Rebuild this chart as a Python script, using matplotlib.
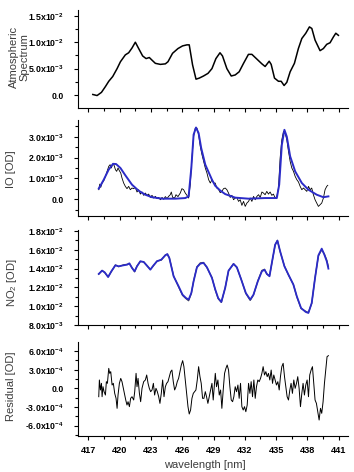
import numpy as np
import matplotlib
matplotlib.use("Agg")
import matplotlib.pyplot as plt
from matplotlib.ticker import MultipleLocator, FuncFormatter

plt.rcParams['font.family'] = ['Liberation Sans', 'DejaVu Sans']
plt.rcParams['mathtext.fontset'] = 'custom'
plt.rcParams['mathtext.rm'] = 'Liberation Sans'
plt.rcParams['mathtext.it'] = 'Liberation Sans:italic'
plt.rcParams['mathtext.bf'] = 'Liberation Sans:bold'

# ---------------- data ----------------
atm_wl = [417.42, 417.83, 418.25, 418.63, 418.95, 419.33, 419.75, 420.07, 420.54, 420.86,
          421.18, 421.50, 421.82, 422.20, 422.53, 422.84, 423.10, 423.42, 423.90, 424.38,
          424.63, 425.07, 425.59, 426.03, 426.45, 426.67, 426.99, 427.32, 427.63, 428.04,
          428.47, 428.85, 429.23, 429.62, 429.86, 430.28, 430.70, 431.08, 431.46, 431.88,
          432.35, 432.68, 433.16, 433.64, 433.95, 434.34, 434.53, 434.85, 435.23, 435.49,
          435.77, 436.03, 436.35, 436.76, 437.14, 437.47, 437.85, 438.20, 438.43, 438.74,
          439.22, 439.54, 439.86, 440.18, 440.50, 440.73, 440.98]
atm_spec = [0.0001, -0.0001, 0.0005, 0.0016, 0.0026, 0.0035, 0.0050, 0.0063, 0.0076, 0.0080,
            0.0089, 0.0100, 0.0088, 0.0074, 0.0069, 0.0071, 0.0066, 0.0060, 0.0058, 0.0059,
            0.0063, 0.0079, 0.0088, 0.0093, 0.0095, 0.0095, 0.0057, 0.0030, 0.0032, 0.0036,
            0.0041, 0.0050, 0.0069, 0.0080, 0.0074, 0.0050, 0.0036, 0.0038, 0.0044, 0.0060,
            0.0077, 0.0077, 0.0068, 0.0059, 0.0054, 0.0064, 0.0058, 0.0032, 0.0026, 0.0026,
            0.0018, 0.0024, 0.0044, 0.0060, 0.0088, 0.0107, 0.0117, 0.0129, 0.0126, 0.0104,
            0.0084, 0.0088, 0.0096, 0.0099, 0.0110, 0.0117, 0.0113]

io_fit_wl = [417.99, 418.47, 418.94, 419.36, 419.65, 420.07, 420.54, 421.18, 421.82, 422.46,
             423.10, 424.06, 425.33, 426.29, 426.61, 426.87, 427.09, 427.32, 427.57, 427.82,
             428.21, 428.85, 429.16, 429.64, 430.12, 431.08, 432.35, 433.95, 435.07, 435.30,
             435.55, 435.80, 436.03, 436.35, 436.83, 437.47, 438.10, 438.90, 439.54, 440.02]
io_fit = [0.51e-3, 0.94e-3, 1.42e-3, 1.70e-3, 1.69e-3, 1.50e-3, 1.15e-3, 0.70e-3, 0.41e-3, 0.22e-3,
          0.10e-3, 0.03e-3, 0.03e-3, 0.06e-3, 0.14e-3, 1.50e-3, 3.10e-3, 3.44e-3, 3.17e-3, 2.45e-3,
          1.66e-3, 0.94e-3, 0.65e-3, 0.42e-3, 0.25e-3, 0.08e-3, 0.03e-3, 0.06e-3, 0.06e-3, 0.70e-3,
          2.60e-3, 3.33e-3, 3.00e-3, 2.06e-3, 1.34e-3, 0.78e-3, 0.46e-3, 0.22e-3, 0.10e-3, 0.14e-3]

io_meas_wl = [417.99, 418.09, 418.18, 418.31, 418.47, 418.63, 418.79, 418.95, 419.08, 419.20,
              419.33, 419.46, 419.59, 419.71, 419.84, 419.97, 420.10, 420.22, 420.38, 420.54,
              420.70, 420.86, 421.02, 421.18, 421.34, 421.50, 421.66, 421.82, 421.98, 422.14,
              422.30, 422.46, 422.62, 422.78, 422.94, 423.10, 423.26, 423.42, 423.58, 423.74,
              423.90, 424.06, 424.22, 424.38, 424.54, 424.69, 424.85, 424.95, 425.08, 425.27,
              425.40, 425.59, 425.81, 425.97, 426.13, 426.29, 426.45, 426.61, 426.77, 426.93,
              427.09, 427.25, 427.41, 427.57, 427.73, 427.89, 428.05, 428.21, 428.37, 428.53,
              428.69, 428.85, 429.01, 429.16, 429.32, 429.48, 429.64, 429.80, 429.96, 430.12,
              430.28, 430.44, 430.60, 430.76, 430.92, 431.08, 431.24, 431.40, 431.56, 431.72,
              431.88, 432.04, 432.20, 432.36, 432.52, 432.68, 432.84, 433.00, 433.16, 433.32,
              433.48, 433.64, 433.79, 433.95, 434.11, 434.27, 434.43, 434.59, 434.75, 434.91,
              435.07, 435.23, 435.39, 435.55, 435.71, 435.87, 436.03, 436.19, 436.35, 436.51,
              436.67, 436.83, 436.99, 437.15, 437.31, 437.47, 437.63, 437.79, 437.95, 438.11,
              438.27, 438.42, 438.58, 438.74, 438.90, 439.06, 439.22, 439.38, 439.54, 439.70,
              439.86, 439.96]
io_meas_e3 = [0.46, 0.73, 0.57, 0.78, 0.89, 1.10, 1.34, 1.58, 1.66, 1.50,
              1.69, 1.63, 1.42, 1.34, 1.50, 1.37, 1.26, 1.02, 0.78, 0.62,
              0.51, 0.62, 0.46, 0.54, 0.51, 0.57, 0.35, 0.46, 0.25, 0.35,
              0.19, 0.30, 0.19, 0.25, 0.09, 0.19, 0.06, 0.14, 0.03, 0.09,
              -0.02, 0.09, 0.00, 0.13, 0.03, 0.14, 0.22, 0.35, 0.09, 0.06,
              0.22, 0.13, 0.30, 0.51, 0.46, 0.30, 0.19, 0.06, 0.70, 1.98,
              3.01, 3.41, 3.41, 3.09, 2.53, 2.14, 1.82, 1.50, 1.26, 0.94,
              0.78, 0.94, 0.78, 0.78, 0.54, 0.48, 0.32, 0.38, 0.51, 0.54,
              0.46, 0.30, 0.09, 0.19, -0.02, 0.06, 0.09, -0.10, -0.02, -0.29,
              -0.10, -0.34, -0.18, -0.10, 0.06, -0.10, 0.14, -0.02, 0.14, 0.22,
              0.09, 0.35, 0.30, 0.22, 0.38, 0.25, 0.35, 0.19, 0.25, 0.06,
              0.14, 0.54, 1.98, 2.85, 3.25, 3.17, 2.85, 2.30, 1.82, 1.50,
              1.34, 1.10, 0.94, 0.83, 0.62, 0.46, 0.54, 0.46, 0.38, 0.62,
              0.46, 0.54, 0.22, -0.02, -0.18, -0.34, -0.26, -0.18, 0.06, 0.46,
              0.62, 0.67]

no2_wl = [417.99, 418.31, 418.56, 418.89, 419.20, 419.59, 419.90, 420.38, 420.71, 420.93,
          421.18, 421.43, 421.66, 421.98, 422.30, 422.62, 422.94, 423.25, 423.58, 423.99,
          424.38, 424.57, 424.76, 425.17, 425.65, 426.03, 426.36, 426.61, 426.87, 427.09,
          427.41, 427.73, 428.04, 428.37, 428.85, 429.16, 429.45, 429.75, 430.12, 430.44,
          430.92, 431.24, 431.66, 432.10, 432.52, 432.83, 433.25, 433.64, 433.89, 434.12,
          434.37, 434.65, 434.91, 435.13, 435.39, 435.80, 436.19, 436.66, 436.99, 437.40,
          437.85, 438.10, 438.42, 438.74, 439.06, 439.38, 439.63, 439.86, 440.02]
no2_fit = [0.01343, 0.01378, 0.01360, 0.01310, 0.01371, 0.01435, 0.01424, 0.01435, 0.01441, 0.01456,
           0.01406, 0.01371, 0.01424, 0.01478, 0.01470, 0.01431, 0.01388, 0.01435, 0.01478, 0.01495,
           0.01541, 0.01555, 0.01513, 0.01318, 0.01212, 0.01122, 0.01087, 0.01070, 0.01140, 0.01265,
           0.01414, 0.01452, 0.01460, 0.01414, 0.01300, 0.01180, 0.01085, 0.01045, 0.01194, 0.01378,
           0.01449, 0.01414, 0.01282, 0.01140, 0.01070, 0.01122, 0.01265, 0.01371, 0.01388, 0.01343,
           0.01318, 0.01495, 0.01654, 0.01697, 0.01584, 0.01424, 0.01335, 0.01229, 0.01105, 0.00980,
           0.00938, 0.00928, 0.01034, 0.01300, 0.01541, 0.01612, 0.01548, 0.01478, 0.01399]
no2_meas = [0.01340, 0.01380, 0.01358, 0.01312, 0.01368, 0.01438, 0.01420, 0.01440, 0.01445, 0.01452,
            0.01410, 0.01365, 0.01428, 0.01475, 0.01472, 0.01428, 0.01392, 0.01432, 0.01480, 0.01490,
            0.01545, 0.01550, 0.01515, 0.01322, 0.01205, 0.01115, 0.01080, 0.01058, 0.01135, 0.01270,
            0.01418, 0.01460, 0.01465, 0.01410, 0.01305, 0.01175, 0.01080, 0.01040, 0.01198, 0.01375,
            0.01452, 0.01410, 0.01285, 0.01135, 0.01062, 0.01118, 0.01268, 0.01380, 0.01392, 0.01340,
            0.01322, 0.01490, 0.01650, 0.01700, 0.01580, 0.01428, 0.01330, 0.01232, 0.01100, 0.00975,
            0.00945, 0.00932, 0.01030, 0.01305, 0.01535, 0.01600, 0.01555, 0.01490, 0.01420]

res_wl = [417.99, 418.05, 418.15, 418.25, 418.31, 418.40, 418.50, 418.63, 418.72, 418.82,
          418.95, 419.04, 419.14, 419.27, 419.39, 419.52, 419.65, 419.75, 419.84, 419.97,
          420.10, 420.22, 420.32, 420.45, 420.58, 420.70, 420.80, 420.93, 421.05, 421.18,
          421.34, 421.44, 421.57, 421.66, 421.76, 421.89, 422.01, 422.14, 422.30, 422.46,
          422.59, 422.72, 422.84, 422.97, 423.10, 423.23, 423.35, 423.48, 423.61, 423.74,
          423.86, 423.99, 424.12, 424.25, 424.38, 424.50, 424.63, 424.76, 424.89, 425.01,
          425.14, 425.27, 425.40, 425.52, 425.65, 425.78, 425.91, 426.04, 426.16, 426.29,
          426.42, 426.55, 426.67, 426.80, 426.93, 427.06, 427.19, 427.31, 427.44, 427.57,
          427.70, 427.82, 427.95, 428.08, 428.21, 428.33, 428.46, 428.59, 428.72, 428.85,
          428.97, 429.10,
          429.17, 429.29, 429.42, 429.55, 429.68, 429.80, 429.93, 430.06, 430.19, 430.31,
          430.44, 430.57, 430.70, 430.83, 430.95, 431.08, 431.21, 431.34, 431.46, 431.59,
          431.72, 431.85, 431.97, 432.10, 432.23, 432.36, 432.49, 432.61, 432.74, 432.87,
          433.00, 433.12, 433.25, 433.38, 433.51, 433.64, 433.76, 433.89, 434.02, 434.15,
          434.27, 434.40, 434.53, 434.66, 434.78, 434.91, 435.04, 435.17, 435.30, 435.42,
          435.55, 435.68, 435.81, 435.93, 436.06, 436.19, 436.32, 436.44, 436.57, 436.70,
          436.83, 436.96, 437.08, 437.21, 437.34, 437.47, 437.59, 437.72, 437.85, 437.98,
          438.11, 438.23, 438.36, 438.49, 438.62, 438.74, 438.87, 439.00, 439.13, 439.26,
          439.38, 439.51, 439.64, 439.77, 439.89, 440.02]
res_e4 = [-1.35, 1.34, -0.27, 0.80, -1.35, 0.26, -0.54, -1.08, 1.07, 0.80,
          3.21, 2.41, 2.68, 0.53, 0.80, -0.81, -1.61, -3.22, -1.08, 0.80,
          1.60, 1.07, 0.26, -0.81, -1.88, -2.69, -2.15, -2.95, -1.61, -1.35,
          -1.88, -0.54, 2.41, 0.26, 1.60, -0.81, -2.15, 0.00, 1.07, 1.34,
          2.14, 0.80, 0.00, -0.54, -0.27, 0.80, -1.08, 0.00, -0.54, -1.35,
          -2.42, -0.81, 1.34, -1.35, 0.26, 0.80, 1.07, 1.87, 2.68, 2.94,
          1.07, -0.27, 0.26, 1.07, 1.60, 2.68, 3.75, 4.45, 3.48, 1.34,
          -0.81, -2.95, -4.13, -3.49, -1.61, -0.81, -0.54, -0.27, 1.34, 3.48,
          1.87, 0.80, -1.61, -1.61, -0.54, -1.35, -2.42, -1.35, -0.27, 0.80,
          -1.88, 0.80,
          2.41, 0.26, 1.34, -1.08, -0.27, -3.22, -0.27, 2.41, 3.21, 3.75,
          2.94, 0.26, -1.88, -2.15, -1.35, 0.26, -0.54, 0.53, -1.61, 0.80,
          -2.95, -3.49, -2.95, -3.76, -2.69, 0.80, -0.81, 1.07, -1.35, 1.34,
          -1.61, 0.26, 1.34, 1.07, 1.60, 2.41, 3.48, 2.14, 2.68, 1.87,
          2.41, 1.34, 2.94, 0.80, 2.14, 1.34, 0.53, 1.07, -0.27, 1.87,
          3.48, 4.02, 1.87, 0.26, -1.35, -1.88, -0.27, 0.80, -0.81, 1.34,
          0.00, 0.80, 1.87, 0.00, -2.95, -0.81, 0.80, -1.08, 0.53, 1.34,
          -1.35, 2.14, 2.94, 3.48, 0.80, -1.88, -2.42, -3.76, -5.10, -3.22,
          -4.02, -2.15, 0.80, 2.94, 5.09, 5.25]

x_ticks = [417, 420, 423, 426, 429, 432, 435, 438, 441]

# ---------------- figure ----------------
W, H = 354, 472
fig = plt.figure(figsize=(W / 100, H / 100), dpi=100)


def px_axes(top, bottom, left=78, right=348):
    return fig.add_axes([left / W, 1 - bottom / H, (right - left) / W, (bottom - top) / H])


def sci_fmt(v, pos):
    if abs(v) < 1e-12:
        return '0.0'
    e = int(np.floor(np.log10(abs(v)) + 1e-6))
    m = v / 10.0 ** e
    return f'{m:.1f}x10$^{{\\mathbf{{{e}}}}}$'


BLUE = '#2b2bc8'
LABEL_C = '#3c3c3c'

ax1 = px_axes(10, 108)
ax2 = px_axes(120, 216)
ax3 = px_axes(230, 325)
ax4 = px_axes(342, 436)
axes = [ax1, ax2, ax3, ax4]

ax1.plot(atm_wl, atm_spec, color='black', lw=1.1)
ax2.plot(io_meas_wl, np.array(io_meas_e3) * 1e-3, color='black', lw=0.6)
ax2.plot(io_fit_wl, io_fit, color=BLUE, lw=1.4)
ax3.plot(no2_wl, no2_meas, color='#444444', lw=0.9)
ax3.plot(no2_wl, no2_fit, color=BLUE, lw=1.3)
ax4.plot(res_wl, np.array(res_e4) * 1e-4, color='black', lw=0.7)

ylims = [(-0.00246, 0.0161), (-0.0008, 0.0038), (0.008, 0.0181), (-7.67e-4, 7.45e-4)]
ymaj = [5e-3, 1e-3, 2e-3, 3e-4]
ymin = [2.5e-3, 0.5e-3, 1e-3, 1.5e-4]

for ax, yl, mj, mn in zip(axes, ylims, ymaj, ymin):
    ax.set_xlim(416.0, 441.9)
    ax.set_ylim(*yl)
    for s in ['top', 'right']:
        ax.spines[s].set_visible(False)
    for s in ['left', 'bottom']:
        ax.spines[s].set_linewidth(0.8)
    ax.xaxis.set_major_locator(MultipleLocator(3))
    ax.xaxis.set_minor_locator(MultipleLocator(1.5))
    ax.yaxis.set_major_locator(MultipleLocator(mj))
    ax.yaxis.set_minor_locator(MultipleLocator(mn))
    ax.yaxis.set_major_formatter(FuncFormatter(sci_fmt))
    ax.tick_params(which='major', direction='out', length=3, width=0.8)
    ax.tick_params(which='minor', direction='out', length=2.4, width=0.8)
    ax.tick_params(axis='y', which='major', labelsize=6.3, pad=7)
    ax.tick_params(axis='x', which='major', labelsize=6.6, pad=4)
    for lab in ax.get_yticklabels():
        lab.set_fontweight('bold')
    if ax is not ax4:
        ax.tick_params(axis='x', labelbottom=False)

ax4.set_xticks(x_ticks)
ax4.set_xticklabels([str(t) for t in x_ticks], fontweight='bold')


def ftext(x, y, s, **kw):
    fig.text(x / W, 1 - y / H, s, **kw)


kw = dict(rotation=90, ha='center', va='center', fontsize=8, color=LABEL_C)
ftext(19, 57, 'Atmospheric\nSpectrum', linespacing=1.1, **kw)
ftext(11, 169, 'IO [OD]', **kw)
ftext(12, 283, 'NO$_2$ [OD]', **kw)
ftext(11, 386, 'Residual [OD]', **kw)
ftext(205, 468, 'wavelength [nm]', ha='center', va='baseline', fontsize=8, color=LABEL_C)

fig.savefig('out.png', dpi=100)
